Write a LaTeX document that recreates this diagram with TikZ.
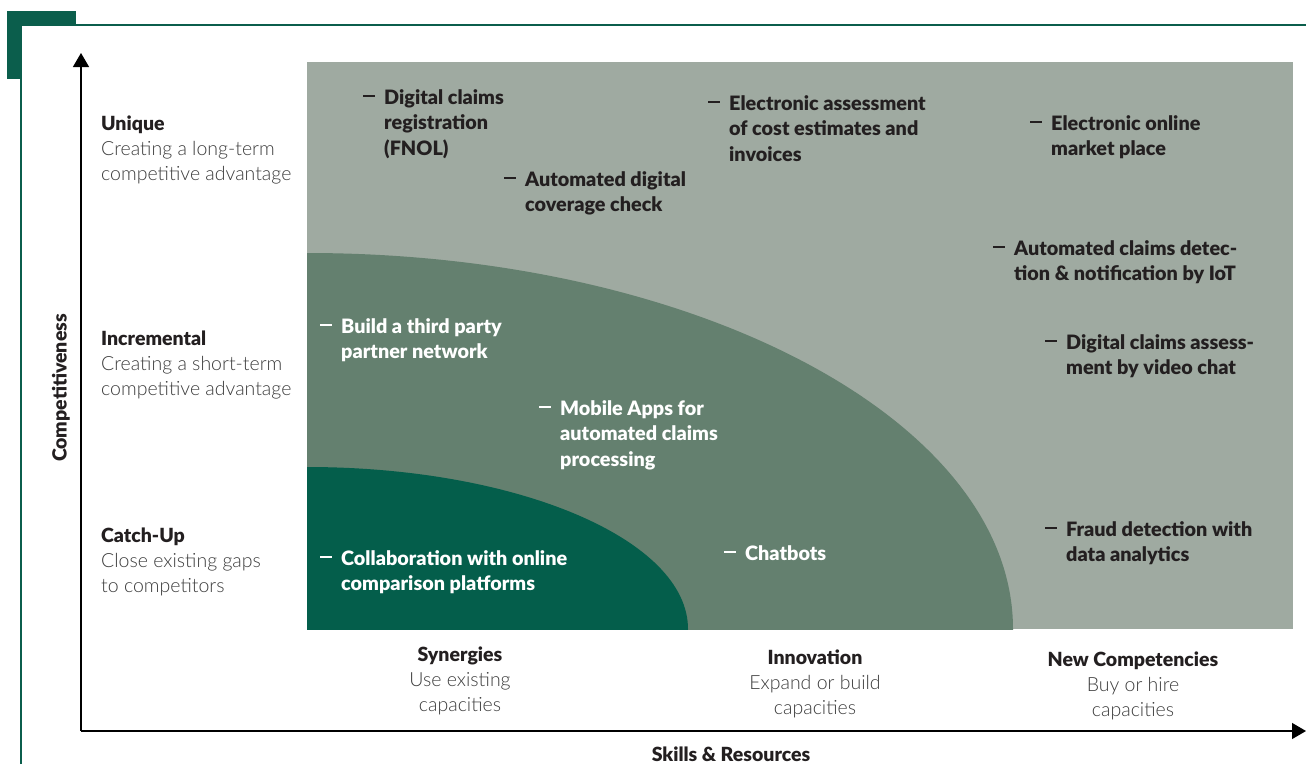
\documentclass[tikz,border=0pt]{standalone}
\usepackage{fontspec}
\setmainfont{Lato}[BoldFont={Lato Black}]
\newfontfamily\lightfont{Lato Light}
\usetikzlibrary{arrows.meta}

\definecolor{framegreen}{HTML}{0B5E4C}
\definecolor{outergray}{HTML}{9FAAA1}
\definecolor{midgreen}{HTML}{64806F}
\definecolor{deepgreen}{HTML}{045E4B}
\definecolor{inkdark}{HTML}{231F20}
\definecolor{inklight}{HTML}{3C3C3C}

% dash in front of every measure
\newcommand{\itemdash}{\llap{\rule[7.5pt]{12pt}{1.4pt}\hspace{9pt}}}
% bold heading line of an axis label
\newcommand{\head}[1]{{\normalfont\bfseries\color{inkdark}#1}}

% nodes sit on the baseline of their last line
\tikzset{
  measure/.style={anchor=base west, align=left, inner sep=0pt,
    font=\bfseries\fontsize{19.8}{25.5}\selectfont, text=inkdark},
  measurew/.style={measure, text=white},
  level/.style={anchor=base west, align=left, inner sep=0pt, text=inklight,
    font=\lightfont\fontsize{19.5}{25}\selectfont},
  effort/.style={level, anchor=base, align=center},
  axistitle/.style={inner sep=0pt, text=inkdark,
    font=\bfseries\fontsize{19.5}{22}\selectfont},
  axisline/.style={line width=1.3pt, -{Triangle[length=14pt,width=16pt]}},
}

\begin{document}
\begin{tikzpicture}[x=1pt,y=-1pt]
  \useasboundingbox (0,0) rectangle (1306,764);

  % frame
  \fill[framegreen] (7,11) rectangle (76,79);
  \fill[white] (21,25) rectangle (1306,764);
  \draw[framegreen, line width=1.5pt] (21,764) -- (21,25) -- (1306,25);

  % fields
  \fill[outergray] (307,62) rectangle (1293,629);
  \begin{scope}
    \clip (307,62) rectangle (1293,629);
    \fill[midgreen] (307,629) ellipse [x radius=706, y radius=376];
    \fill[deepgreen] (307,629) ellipse [x radius=381, y radius=162];
  \end{scope}

  % axes
  \coordinate (origin) at (81,731);
  \coordinate (ytip) at (81,53);
  \coordinate (xtip) at (1306,731);
  \draw[axisline] (origin) -- (ytip);
  \draw[axisline] (origin) -- (xtip);
  \node[axistitle, rotate=90] (ytitle) at (61,388) {Competitiveness};
  \node[axistitle, anchor=base] (xtitle) at (731,761) {Skills \& Resources};

  % competitiveness levels
  \node[level] (unique) at (101,180) {\head{Unique}\\Creating a long-term\\competitive advantage};
  \node[level] (incr) at (101,395) {\head{Incremental}\\Creating a short-term\\competitive advantage};
  \node[level] (catchup) at (101,592) {\head{Catch-Up}\\Close existing gaps\\to competitors};

  % resource levels
  \node[effort] (syn) at (460,711) {\head{Synergies}\\Use existing\\capacities};
  \node[effort] (inno) at (815,714) {\head{Innovation}\\Expand or build\\capacities};
  \node[effort] (newc) at (1133,716) {\head{New Competencies}\\Buy or hire\\capacities};

  % measures, outer field
  \node[measure] (fnol) at (384,155) {\itemdash Digital claims\\registration\\(FNOL)};
  \node[measure] (cover) at (525,211.5) {\itemdash Automated digital\\coverage check};
  \node[measure] (assess) at (729,161) {\itemdash Electronic assessment\\of cost estimates and\\invoices};
  \node[measure] (market) at (1051,155.5) {\itemdash Electronic online\\market place};
  \node[measure] (iot) at (1014,280.5) {\itemdash Automated claims detec-\\tion \& notification by IoT};
  \node[measure] (video) at (1066,374.5) {\itemdash Digital claims assess-\\ment by video chat};
  \node[measure] (fraud) at (1066,561.5) {\itemdash Fraud detection with\\data analytics};

  % measures, middle field
  \node[measurew] (partner) at (341,358.5) {\itemdash Build a third party\\partner network};
  \node[measurew] (apps) at (560,466) {\itemdash Mobile Apps for\\automated claims\\processing};
  \node[measurew] (chat) at (745,560) {\itemdash Chatbots};

  % measures, inner field
  \node[measurew] (compare) at (341,590.5) {\itemdash Collaboration with online\\comparison platforms};
\end{tikzpicture}
\end{document}
